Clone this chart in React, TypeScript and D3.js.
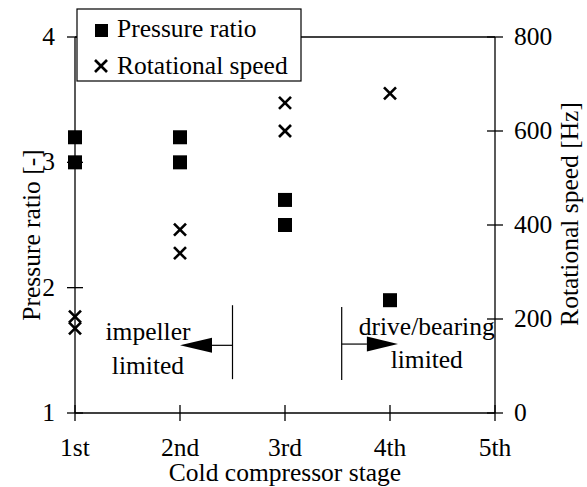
import React from "react";
import * as d3 from "d3";

const stageLabels = ["1st", "2nd", "3rd", "4th", "5th"];
const stageTicks = [1, 2, 3, 4, 5];
const pressureTicks = [1, 2, 3, 4];
const speedTicks = [0, 200, 400, 600, 800];

const pressureStage = [1, 1, 2, 2, 3, 3, 4];
const pressureRatio = [3.2, 3.0, 3.2, 3.0, 2.7, 2.5, 1.9];

const speedStage = [1, 1, 2, 2, 3, 3, 4];
const speedHz = [205, 180, 390, 340, 660, 600, 680];

// annotation arrows in data units: [barX, yLow, yHigh, yArrow, baseX, tipX]
const arrows = [
  [2.5, 1.27, 1.86, 1.54, 2.305, 2.0],
  [3.54, 1.263, 1.846, 1.55, 3.78, 4.076],
];
const annoText = [
  { x: 1.695, lines: ["impeller", "limited"], ys: [1.58, 1.315] },
  { x: 4.35, lines: ["drive/bearing", "limited"], ys: [1.62, 1.36] },
];

const W = 587;
const H = 487;
const FONT = '"Liberation Serif", "DejaVu Serif", serif';
const FS = 25.5;

export default function App() {
  const x = d3.scaleLinear().domain([1, 5]).range([75, 495]);
  const yL = d3.scaleLinear().domain([1, 4]).range([413, 37]);
  const yR = d3.scaleLinear().domain([0, 800]).range([413, 37]);
  const sq = 14;
  const cr = 6;
  const cross = (cx: number, cy: number, k: string) => (
    <g key={k} stroke="#000" strokeWidth={2.6}>
      <line x1={cx - cr} y1={cy - cr} x2={cx + cr} y2={cy + cr} />
      <line x1={cx - cr} y1={cy + cr} x2={cx + cr} y2={cy - cr} />
    </g>
  );
  const ts = { fontFamily: FONT, fontSize: FS };
  return (
    <svg
      width={W}
      height={H}
      style={{ position: "absolute", left: 0, top: 0, fontFamily: FONT }}
    >
      <rect width={W} height={H} fill="#fff" />
      {/* frame */}
      <g stroke="#000" strokeWidth={1.3} fill="none">
        <line x1={x(1)} y1={yL(4)} x2={x(1)} y2={yL(1)} />
        <line x1={x(1)} y1={yL(1)} x2={x(5)} y2={yL(1)} />
        <line x1={x(5)} y1={yR(0)} x2={x(5)} y2={yR(800)} />
        <line x1={x(1)} y1={yL(4)} x2={x(5)} y2={yL(4)} />
        {pressureTicks.map((t) => (
          <line key={"lt" + t} x1={x(1) - 8} x2={x(1) + 8} y1={yL(t)} y2={yL(t)} />
        ))}
        {speedTicks.map((t) => (
          <line key={"rt" + t} x1={x(5) - 8} x2={x(5) + 8} y1={yR(t)} y2={yR(t)} />
        ))}
        {stageTicks.map((t) => (
          <line key={"xt" + t} x1={x(t)} x2={x(t)} y1={yL(1) - 8} y2={yL(1) + 8} />
        ))}
      </g>
      {/* tick labels */}
      {pressureTicks.map((t) => (
        <text key={"ll" + t} style={ts} x={55} y={yL(t) + 8} textAnchor="end">
          {t}
        </text>
      ))}
      {speedTicks.map((t) => (
        <text key={"rl" + t} style={ts} x={514} y={yR(t) + 8} textAnchor="start">
          {t}
        </text>
      ))}
      {stageTicks.map((t, i) => (
        <text key={"xl" + t} style={ts} x={x(t)} y={456} textAnchor="middle">
          {stageLabels[i]}
        </text>
      ))}
      {/* axis titles */}
      <text style={ts} x={285} y={481} textAnchor="middle">
        Cold compressor stage
      </text>
      <text style={ts} transform="translate(40,235) rotate(-90)" textAnchor="middle">
        Pressure ratio [-]
      </text>
      <text style={ts} transform="translate(578,214) rotate(-90)" textAnchor="middle">
        Rotational speed [Hz]
      </text>
      {/* data */}
      {pressureStage.map((s, i) => (
        <rect
          key={"p" + i}
          x={x(s) - sq / 2}
          y={yL(pressureRatio[i]) - sq / 2}
          width={sq}
          height={sq}
          fill="#000"
        />
      ))}
      {speedStage.map((s, i) => cross(x(s), yR(speedHz[i]), "s" + i))}
      {/* annotations */}
      {arrows.map((a, i) => {
        const [bx, ylo, yhi, ya, base, tip] = a;
        const yy = yL(ya);
        return (
          <g key={"a" + i}>
            <line x1={x(bx)} x2={x(bx)} y1={yL(ylo)} y2={yL(yhi)} stroke="#000" strokeWidth={1.2} />
            <line x1={x(bx)} x2={x(base)} y1={yy} y2={yy} stroke="#000" strokeWidth={1.2} />
            <path
              d={`M${x(tip)},${yy} L${x(base)},${yy - 7.5} L${x(base)},${yy + 7.5} Z`}
              fill="#000"
            />
          </g>
        );
      })}
      {annoText.map((t, i) =>
        t.lines.map((l, j) => (
          <text key={"t" + i + j} style={ts} x={x(t.x)} y={yL(t.ys[j])} textAnchor="middle">
            {l}
          </text>
        ))
      )}
      {/* legend */}
      <rect x={77} y={9} width={224} height={72} fill="#fff" stroke="#000" strokeWidth={1.2} />
      <rect x={95} y={24} width={13} height={13} fill="#000" />
      {cross(101, 66, "leg")}
      <text style={ts} x={117} y={37}>Pressure ratio</text>
      <text style={ts} x={117} y={74}>Rotational speed</text>
    </svg>
  );
}
